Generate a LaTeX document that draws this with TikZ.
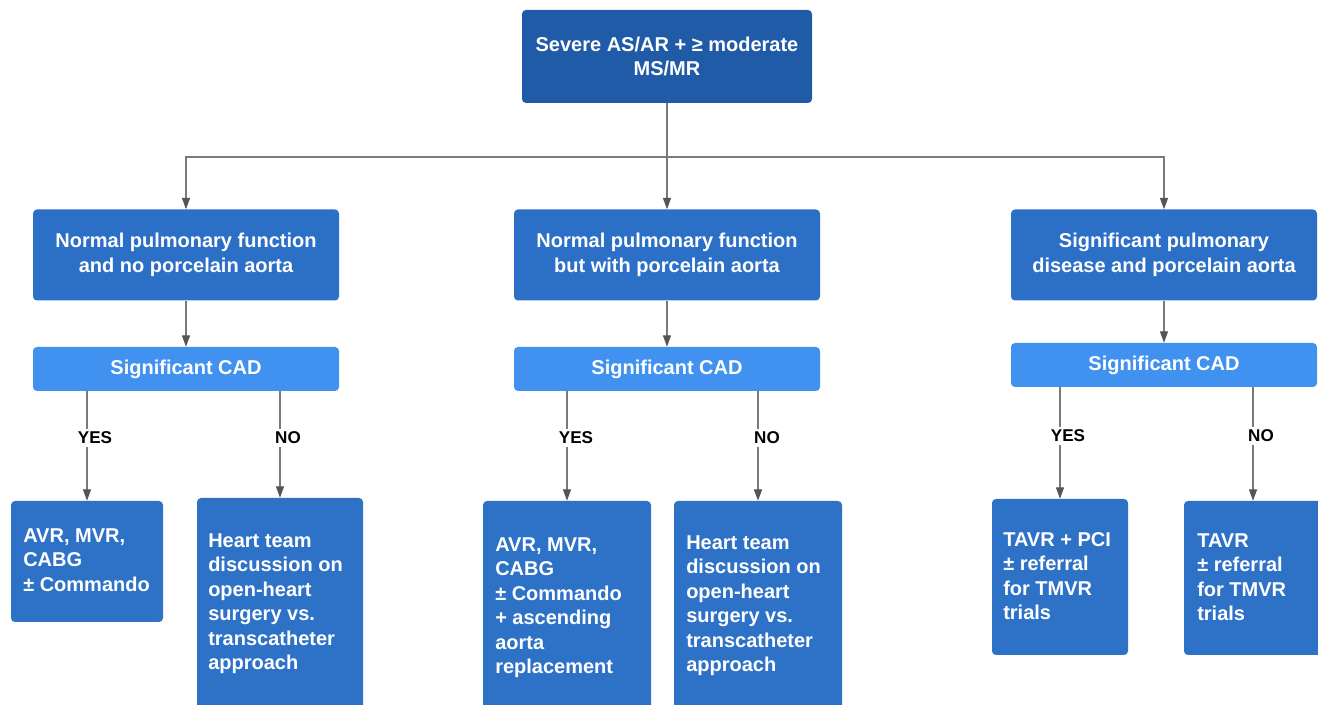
\documentclass[tikz,border=0pt]{standalone}
\usepackage{fontspec}
\setmainfont{Liberation Sans}
\usetikzlibrary{arrows.meta}
\definecolor{topblue}{HTML}{1F5BA6}
\definecolor{midblue}{HTML}{2B6FC6}
\definecolor{cadblue}{HTML}{4191F0}
\definecolor{botblue}{HTML}{2E72C8}
\definecolor{linegray}{HTML}{7A7A7A}
\definecolor{tipgray}{HTML}{555555}
\tikzset{
  boxbase/.style={rectangle, rounded corners=3pt, inner sep=0pt, text=white,
    font=\bfseries\fontsize{15}{18.4}\selectfont, align=center},
  topbox/.style={boxbase, fill=topblue, minimum width=217.5pt, minimum height=69.75pt},
  midbox/.style={boxbase, fill=midblue, minimum width=229.5pt, minimum height=68.25pt},
  cadbox/.style={boxbase, fill=cadblue, minimum width=229.5pt, minimum height=33pt},
  botbox/.style={boxbase, fill=botblue},
  bottext/.style={inner sep=0pt, text=white, anchor=north west, align=left,
    font=\bfseries\fontsize{15}{18.4}\selectfont},
  lbl/.style={fill=white, inner sep=2pt, text=black,
    font=\bfseries\fontsize{12.8}{15}\selectfont},
  conn/.style={draw=linegray, line width=0.9pt},
  arr/.style={conn, -{Triangle[length=8.5pt,width=6pt,color=tipgray]}},
}
\begin{document}
\begin{tikzpicture}[x=0.75pt,y=-0.75pt]
\useasboundingbox (0,0) rectangle (1318,705);
\clip (0,0) rectangle (1318,705);
\fill[white] (0,0) rectangle (1318,705);

% top
\node[topbox] (top) at (667,56.5) {Severe AS/AR + ≥ moderate\\MS/MR};

% level 2
\node[midbox] (l2a) at (186,255) {Normal pulmonary function\\and no porcelain aorta};
\node[midbox] (l2b) at (667,255) {Normal pulmonary function\\but with porcelain aorta};
\node[midbox] (l2c) at (1164,255) {Significant pulmonary\\disease and porcelain aorta};

% CAD
\node[cadbox] (cada) at (186,369) {Significant CAD};
\node[cadbox] (cadb) at (667,369) {Significant CAD};
\node[cadbox] (cadc) at (1164,365) {Significant CAD};

% bottom boxes
\node[botbox, minimum width=114pt, minimum height=90.75pt] (ya) at (87,561.5) {};
\node[botbox, minimum width=124.5pt, minimum height=172.5pt] (na) at (280,613) {};
\node[botbox, minimum width=126pt, minimum height=172.5pt] (yb) at (567,616) {};
\node[botbox, minimum width=126pt, minimum height=172.5pt] (nb) at (758,616) {};
\node[botbox, minimum width=102pt, minimum height=117pt] (yc) at (1060,577) {};
\node[botbox, minimum width=103.5pt, minimum height=115.5pt] (nc) at (1253,578) {};

\node[bottext] (tya) at (23,528) {AVR, MVR,\\CABG\\± Commando};
\node[bottext] (tna) at (208,533) {Heart team\\discussion on\\open-heart\\surgery vs.\\transcatheter\\approach};
\node[bottext] (tyb) at (495,537) {AVR, MVR,\\CABG\\± Commando\\+ ascending\\aorta\\replacement};
\node[bottext] (tnb) at (686,535) {Heart team\\discussion on\\open-heart\\surgery vs.\\transcatheter\\approach};
\node[bottext] (tyc) at (1003,532) {TAVR + PCI\\± referral\\for TMVR\\trials};
\node[bottext] (tnc) at (1197,533) {TAVR\\± referral\\for TMVR\\trials};

% connectors top -> level 2
\coordinate (hub) at (667,157);
\draw[conn] (top.south) -- (hub);
\draw[arr] (hub) -| (l2a.north);
\draw[arr] (hub) -- (l2b.north);
\draw[arr] (hub) -| (l2c.north);

% level 2 -> CAD
\draw[arr] (l2a.south) -- (cada.north);
\draw[arr] (l2b.south) -- (cadb.north);
\draw[arr] (l2c.south) -- (cadc.north);

% CAD -> outcomes
\draw[arr] (cada.south -| ya.north) -- (ya.north);
\draw[arr] (cada.south -| na.north) -- (na.north);
\draw[arr] (cadb.south -| yb.north) -- (yb.north);
\draw[arr] (cadb.south -| nb.north) -- (nb.north);
\draw[arr] (cadc.south -| yc.north) -- (yc.north);
\draw[arr] (cadc.south -| nc.north) -- (nc.north);

% labels
\node[lbl] (lya) at (95,438) {YES};
\node[lbl] (lna) at (288,438) {NO};
\node[lbl] (lyb) at (576,438) {YES};
\node[lbl] (lnb) at (767,438) {NO};
\node[lbl] (lyc) at (1068,436) {YES};
\node[lbl] (lnc) at (1261,436) {NO};
\end{tikzpicture}
\end{document}
